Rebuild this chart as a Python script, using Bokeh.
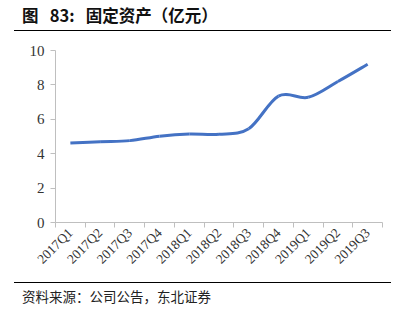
import math
from bokeh.plotting import figure
from bokeh.models import Div, FixedTicker, Range1d, ColumnDataSource
from bokeh.layouts import column
from bokeh.embed import file_html
from bokeh.resources import INLINE

categories = ["2017Q1", "2017Q2", "2017Q3", "2017Q4", "2018Q1", "2018Q2",
              "2018Q3", "2018Q4", "2019Q1", "2019Q2", "2019Q3"]
values = [4.62, 4.70, 4.76, 5.02, 5.15, 5.13, 5.45, 7.35, 7.28, 8.2, 9.2]
y_ticks = [0, 2, 4, 6, 8, 10]

title_text = "图&nbsp;&nbsp;&nbsp;83:&nbsp;&nbsp;&nbsp;固定资产（亿元）"
source_text = "资料来源：公司公告，东北证券"

xs = [i + 0.5 for i in range(len(categories))]
n = len(xs)
x0, y0, x1, y1, cx0, cy0, cx1, cy1 = [], [], [], [], [], [], [], []
for i in range(n - 1):
    pm = (xs[max(i - 1, 0)], values[max(i - 1, 0)])
    p0 = (xs[i], values[i])
    p1 = (xs[i + 1], values[i + 1])
    p2 = (xs[min(i + 2, n - 1)], values[min(i + 2, n - 1)])
    x0.append(p0[0]); y0.append(p0[1]); x1.append(p1[0]); y1.append(p1[1])
    cx0.append(p0[0] + (p1[0] - pm[0]) / 6); cy0.append(p0[1] + (p1[1] - pm[1]) / 6)
    cx1.append(p1[0] - (p2[0] - p0[0]) / 6); cy1.append(p1[1] - (p2[1] - p0[1]) / 6)
src = ColumnDataSource(dict(x0=x0, y0=y0, x1=x1, y1=y1, cx0=cx0, cy0=cy0, cx1=cx1, cy1=cy1))

p = figure(width=409, height=250, output_backend="svg", toolbar_location=None,
           x_range=Range1d(0, n), y_range=Range1d(0, 10),
           min_border_left=55, min_border_right=27, min_border_top=18, min_border_bottom=60)
p.outline_line_color = None
p.grid.grid_line_color = None
p.background_fill_color = "white"
p.border_fill_color = "white"

p.bezier(x0="x0", y0="y0", x1="x1", y1="y1", cx0="cx0", cy0="cy0", cx1="cx1", cy1="cy1",
         source=src, line_color="#4472C4", line_width=3)

ax = p.xaxis[0]
ax.ticker = FixedTicker(ticks=xs, minor_ticks=list(range(n + 1)))
ax.major_label_overrides = {x: c for x, c in zip(xs, categories)}
ax.major_label_orientation = math.pi / 4
ax.major_tick_line_color = None
ax.minor_tick_line_color = "#bfbfbf"
ax.minor_tick_out = 5
ax.minor_tick_in = 0
ax.axis_line_color = "#bfbfbf"
ax.major_label_text_font = "Liberation Serif"
ax.major_label_text_font_size = "13.5px"
ax.major_label_text_color = "#333333"
ax.major_label_standoff = 2

ay = p.yaxis[0]
ay.ticker = FixedTicker(ticks=y_ticks)
ay.minor_tick_line_color = None
ay.major_tick_line_color = "#bfbfbf"
ay.major_tick_out = 5
ay.major_tick_in = 0
ay.axis_line_color = "#bfbfbf"
ay.major_label_text_font = "Liberation Serif"
ay.major_label_text_font_size = "15px"
ay.major_label_text_color = "#333333"
ay.major_label_standoff = 6

title = Div(text=f'<div style="font-family:\'Noto Sans CJK SC\';font-weight:bold;font-size:16.5px;'
                 f'color:#111;width:377px;height:31px;box-sizing:border-box;padding:6px 0 0 8px;'
                 f'border-bottom:1.5px solid #000;line-height:19px;">{title_text}</div>',
            width=409, height=32, margin=(0, 0, 0, 14))
source = Div(text=f'<div style="font-family:\'Noto Sans CJK SC\';font-size:13.5px;color:#222;'
                  f'width:377px;box-sizing:border-box;border-top:1.5px solid #000;'
                  f'padding:5px 0 0 8px;line-height:17px;">{source_text}</div>',
             width=409, height=36, margin=(0, 0, 0, 14))

layout = column(title, p, source, spacing=0)
open("out.html", "w").write(file_html(layout, INLINE))
